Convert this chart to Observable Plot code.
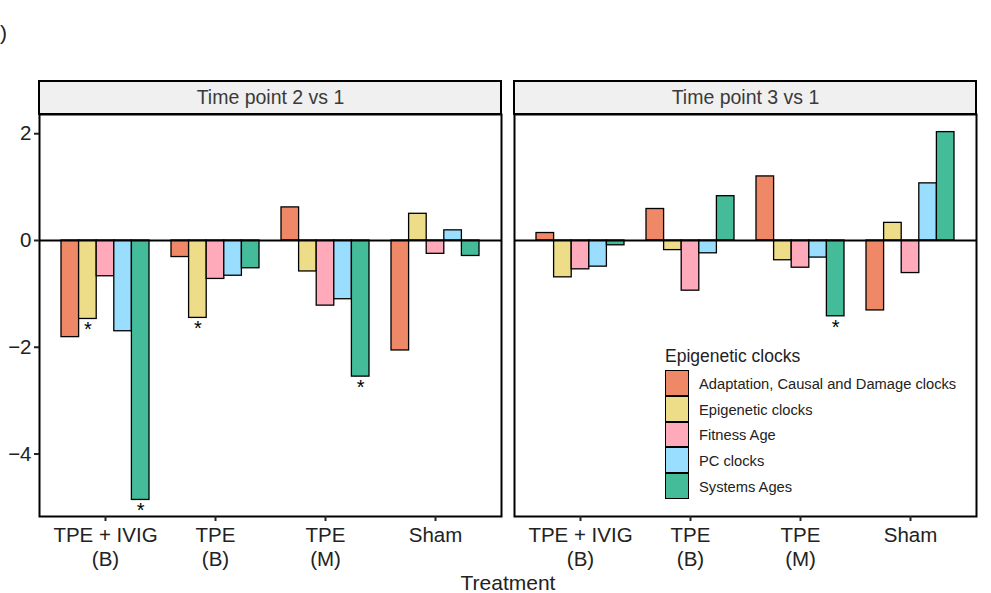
<!DOCTYPE html>
<html>
<head>
<meta charset="utf-8">
<script src="https://cdn.jsdelivr.net/npm/d3@7"></script>
<script src="https://cdn.jsdelivr.net/npm/@observablehq/plot@0.6"></script>
<style>
  html, body { margin: 0; padding: 0; background: #fff; }
  #wrap { position: relative; width: 991px; height: 593px; overflow: hidden; font-family: "Liberation Sans", Arial, sans-serif; }
  #wrap svg { position: absolute; left: 0; top: 0; }
  .legend { position: absolute; left: 665px; top: 345.5px; color: #222; }
  .legend .title { font-size: 17.5px; height: 25.5px; line-height: 20px; }
  .legend .row { display: flex; align-items: center; height: 25.7px; }
  .legend .key { width: 22px; height: 23.7px; border: 1.3px solid #000; box-sizing: content-box; margin-top: -1.3px; }
  .legend .lab { font-size: 14.7px; margin-left: 10px; color: #222; }
  .xlabel { position: absolute; left: 0; width: 1016px; top: 571px; text-align: center; font-size: 21px; color: #222; }
  .tag { position: absolute; left: -14px; top: 21px; font-size: 21px; color: #222; }
</style>
</head>
<body>
<div id="wrap"></div>
<script>
// ---- data ----
const panels = ["Time point 2 vs 1", "Time point 3 vs 1"];
const treatments = ["TPE + IVIG\n(B)", "TPE\n(B)", "TPE\n(M)", "Sham"];
const clocks = ["Adaptation, Causal and Damage clocks", "Epigenetic clocks", "Fitness Age", "PC clocks", "Systems Ages"];
const clockColors = ["#EE8866", "#EEDD88", "#FFAABB", "#99DDFF", "#44BB99"];
const yTicks = [-4, -2, 0, 2];

// rows: treatments, columns: clocks
const tp2vs1 = [
  [-1.81, -1.47, -0.67, -1.70, -4.86],
  [-0.31, -1.45, -0.72, -0.66, -0.52],
  [ 0.62, -0.58, -1.22, -1.10, -2.55],
  [-2.06,  0.50, -0.25,  0.19, -0.29]
];
const tp3vs1 = [
  [ 0.14, -0.69, -0.54, -0.49, -0.09],
  [ 0.59, -0.18, -0.94, -0.24,  0.83],
  [ 1.20, -0.37, -0.51, -0.32, -1.42],
  [-1.31,  0.33, -0.61,  1.07,  2.03]
];
// significant results: [panel index, treatment index, clock index]
const significant = [[0, 0, 1], [0, 0, 4], [0, 1, 1], [0, 2, 4], [1, 2, 4]];

// ---- build table ----
const seriesByPanel = [tp2vs1, tp3vs1];
const groupWidth = 0.8;
const barW = groupWidth / clocks.length;
const rows = [];
seriesByPanel.forEach((mat, pi) => {
  mat.forEach((vals, ti) => {
    vals.forEach((v, ci) => {
      const x1 = ti + 1 - groupWidth / 2 + ci * barW;
      rows.push({
        panel: panels[pi], treatment: treatments[ti], clock: clocks[ci],
        value: v, x1, x2: x1 + barW, xc: x1 + barW / 2,
        sig: significant.some(s => s[0] === pi && s[1] === ti && s[2] === ci)
      });
    });
  });
});

const W = 991, H = 593, mTop = 114, mBottom = 77, mLeft = 39, mRight = 14;
const plotH = H - mTop - mBottom;
const stripH = 33;

const chart = Plot.plot({
  width: W, height: H,
  marginTop: mTop, marginBottom: mBottom, marginLeft: mLeft, marginRight: mRight,
  style: { fontFamily: "Liberation Sans, Arial, sans-serif", background: "transparent" },
  fx: { domain: panels, paddingInner: 0.0273, paddingOuter: 0, axis: null, label: null },
  x: { domain: [0.4, 4.6] },
  y: { domain: [-5.17, 2.36] },
  color: { domain: clocks, range: clockColors },
  marks: [
    // facet strips
    Plot.rect(panels, { fx: d => d, fill: "#f0f0f0", stroke: "#000", strokeWidth: 2, insetTop: -stripH, insetBottom: plotH }),
    Plot.text(panels, { fx: d => d, text: d => d, frameAnchor: "top", lineAnchor: "middle", dy: -stripH / 2, fontSize: 19.5, fill: "#3a3a3a" }),
    // bars
    Plot.rect(rows, { fx: "panel", x1: "x1", x2: "x2", y1: 0, y2: "value", fill: "clock", stroke: "#000", strokeWidth: 1.3 }),
    Plot.ruleY([0], { stroke: "#000", strokeWidth: 2 }),
    // significance stars
    Plot.text(rows.filter(d => d.sig), { fx: "panel", x: "xc", y: "value", text: () => "*", fontSize: 20, lineAnchor: "top", dy: 3, fill: "#000" }),
    Plot.frame({ stroke: "#000", strokeWidth: 2 }),
    Plot.axisX({ ticks: [1, 2, 3, 4], tickFormat: i => treatments[i - 1], tickSize: 5, tickPadding: 3, fontSize: 20.5, lineHeight: 1.17, color: "#222", strokeWidth: 2, label: null }),
    Plot.axisY({ ticks: yTicks, tickSize: 5, tickPadding: 3, fontSize: 20.5, color: "#222", strokeWidth: 2, label: null })
  ]
});

const wrap = document.getElementById("wrap");
wrap.appendChild(chart);

// panel tag (partly cut off at the left edge, as in the reference)
const tag = document.createElement("div");
tag.className = "tag";
tag.textContent = "B)";
wrap.appendChild(tag);

// x-axis title
const xl = document.createElement("div");
xl.className = "xlabel";
xl.textContent = "Treatment";
wrap.appendChild(xl);

// legend, built from the color scale
const cs = chart.scale("color");
const lg = document.createElement("div");
lg.className = "legend";
const t = document.createElement("div");
t.className = "title";
t.textContent = "Epigenetic clocks";
lg.appendChild(t);
cs.domain.forEach((c, i) => {
  const r = document.createElement("div");
  r.className = "row";
  const k = document.createElement("div");
  k.className = "key";
  k.style.background = cs.range[i];
  const l = document.createElement("div");
  l.className = "lab";
  l.textContent = c;
  r.appendChild(k); r.appendChild(l);
  lg.appendChild(r);
});
wrap.appendChild(lg);
</script>
</body>
</html>
